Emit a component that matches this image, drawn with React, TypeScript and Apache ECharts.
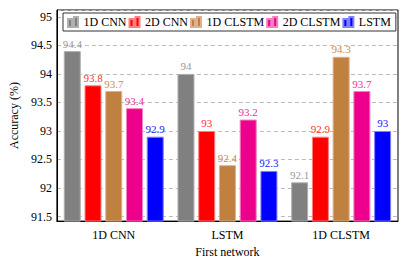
import React, { useEffect, useRef } from "react";
import * as echarts from "echarts";

const categories = ["1D CNN", "LSTM", "1D CLSTM"];
const seriesNames = ["1D CNN", "2D CNN", "1D CLSTM", "2D CLSTM", "LSTM"];
const cnn1d = [94.4, 94.0, 92.1];
const cnn2d = [93.8, 93.0, 92.9];
const clstm1d = [93.7, 92.4, 94.3];
const clstm2d = [93.4, 93.2, 93.7];
const lstm = [92.9, 92.3, 93.0];
const seriesValues = [cnn1d, cnn2d, clstm1d, clstm2d, lstm];

const fills = ["#808080", "#ff0000", "#bf8040", "#ec008c", "#0000ff"];
const borders = ["#b0b0b0", "#ff8080", "#dcb090", "#f580c0", "#8080ff"];
const labelColors = ["#9a9a9a", "#ff3030", "#cc8c50", "#ee30a0", "#2020ff"];

const FONT = "'Liberation Serif', 'Times New Roman', serif";

export default function App() {
  const ref = useRef<HTMLDivElement>(null);
  useEffect(() => {
    if (!ref.current) return;
    const chart = echarts.init(ref.current, undefined, { renderer: "svg" });
    chart.setOption({
      animation: false,
      textStyle: { fontFamily: FONT },
      grid: {
        left: 54,
        right: 9,
        top: 10,
        bottom: 41,
        show: true,
        borderColor: "#000",
        borderWidth: 1,
        backgroundColor: "transparent",
      },
      legend: {
        left: 63,
        top: 13,
        width: 340,
        padding: [3, 5, 3, 4],
        itemGap: 2,
        itemWidth: 11,
        itemHeight: 10,
        borderColor: "#333",
        borderWidth: 1,
        backgroundColor: "#fff",
        borderRadius: 0,
        icon: "path://M0,2h4v8h-4z M6,0h4v10h-4z",
        textStyle: { fontFamily: FONT, fontSize: 12, color: "#000" },
        data: seriesNames,
      },
      xAxis: {
        type: "category",
        data: categories,
        axisLine: { lineStyle: { color: "#000", width: 1 } },
        axisTick: { show: false },
        axisLabel: { color: "#000", fontFamily: FONT, fontSize: 12, margin: 8 },
        name: "First network",
        nameLocation: "middle",
        nameGap: 24,
        nameTextStyle: { color: "#000", fontFamily: FONT, fontSize: 12 },
      },
      yAxis: {
        type: "value",
        min: 91.42,
        max: 95.12,
        splitNumber: 7,
        axisLine: { show: true, lineStyle: { color: "#000", width: 1 } },
        axisTick: { show: false },
        axisLabel: {
          color: "#000",
          fontFamily: FONT,
          fontSize: 12,
          margin: 5,
          showMinLabel: false,
          showMaxLabel: false,
          formatter: (v: number) =>
            Math.abs(v * 2 - Math.round(v * 2)) < 1e-6 ? String(v) : "",
        },
        splitLine: {
          show: true,
          lineStyle: { color: "#bbbbbb", type: [4, 3], width: 1 },
        },
        name: "Accuracy (%)",
        nameLocation: "middle",
        nameGap: 30,
        nameTextStyle: { color: "#000", fontFamily: FONT, fontSize: 12 },
      },
      series: seriesNames.map((name, i) => ({
        name,
        type: "bar",
        data: seriesValues[i],
        barWidth: 17,
        barGap: "22%",
        itemStyle: { color: fills[i], borderColor: borders[i], borderWidth: 1 },
        label: {
          show: true,
          position: "top",
          distance: 2,
          fontFamily: FONT,
          fontSize: 11,
          color: labelColors[i],
          formatter: (p: any) => String(p.value),
        },
      })),
    });
    return () => chart.dispose();
  }, []);
  return (
    <div
      ref={ref}
      style={{ position: "fixed", left: 0, top: 0, width: 407, height: 263, background: "#fff" }}
    />
  );
}
